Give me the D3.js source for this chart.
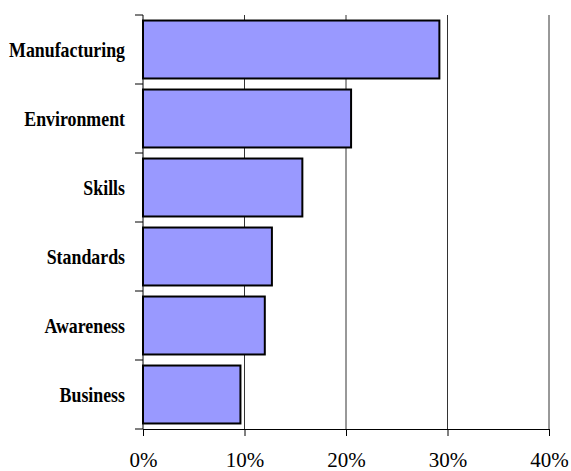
<!DOCTYPE html>
<html>
<head>
<meta charset="utf-8">
<script src="https://cdn.jsdelivr.net/npm/d3@7"></script>
<style>
  body { margin: 0; background: #fff; }
  svg { display: block; }
</style>
</head>
<body>
<svg id="canvas" width="571" height="471"></svg>
<script>
// chart data
const categories = ['Manufacturing', 'Environment', 'Skills', 'Standards', 'Awareness', 'Business'];
const shares = [29.2, 20.5, 15.7, 12.7, 12.0, 9.6];
const tickValues = [0, 10, 20, 30, 40];

const margin = {top: 15, right: 22, bottom: 42, left: 143};
const width = 571 - margin.left - margin.right;
const height = 471 - margin.top - margin.bottom;

let canvas = d3.select('#canvas');
let g = canvas.append('g').attr('transform', `translate(${margin.left},${margin.top})`);

let x = d3.scaleLinear().domain([0, 40]).range([0, width]);
let y = d3.scaleBand().domain(categories).range([0, height]).paddingInner(0.16).paddingOuter(0.08);

// vertical grid lines
g.selectAll('.grid')
    .data(tickValues.slice(1))
    .enter()
    .append('line')
    .attr('x1', d => x(d))
    .attr('x2', d => x(d))
    .attr('y1', 0)
    .attr('y2', height)
    .attr('stroke', '#333')
    .attr('stroke-width', 1);

// bars
g.selectAll('rect')
    .data(categories)
    .enter()
    .append('rect')
    .attr('x', 0)
    .attr('y', d => y(d))
    .attr('width', (d, i) => x(shares[i]))
    .attr('height', y.bandwidth())
    .attr('fill', '#9999FF')
    .attr('stroke', '#000')
    .attr('stroke-width', 2);

// x axis
let xAxis = d3.axisBottom(x)
    .tickValues(tickValues)
    .tickFormat(d => d + '%')
    .tickSize(7)
    .tickSizeOuter(0);

g.append('g')
    .attr('transform', `translate(0,${height})`)
    .call(xAxis)
    .call(ax => ax.select('.domain').attr('stroke', '#000'))
    .call(ax => ax.selectAll('line').attr('stroke', '#000'))
    .call(ax => ax.selectAll('text')
        .attr('dy', null)
        .attr('y', 38)
        .attr('fill', '#000')
        .style('font-family', '"Liberation Serif", "DejaVu Serif", serif')
        .style('font-size', '21px'));

// y axis line with ticks between categories
let yTicks = d3.range(categories.length + 1).map(i => i * height / categories.length);
let yAxisG = g.append('g');
yAxisG.append('line')
    .attr('x1', 0).attr('x2', 0)
    .attr('y1', 0).attr('y2', height)
    .attr('stroke', '#000');
yAxisG.selectAll('.ytick')
    .data(yTicks)
    .enter()
    .append('line')
    .attr('x1', -8).attr('x2', 0)
    .attr('y1', d => d).attr('y2', d => d)
    .attr('stroke', '#000');

// category labels (narrow serif look)
g.selectAll('.label')
    .data(categories)
    .enter()
    .append('text')
    .attr('transform', d => `translate(-18,${y(d) + y.bandwidth() / 2}) scale(0.85,1)`)
    .attr('dy', '0.35em')
    .attr('text-anchor', 'end')
    .attr('fill', '#000')
    .style('font-family', '"Liberation Serif", "DejaVu Serif", serif')
    .style('font-size', '21px')
    .style('font-weight', 'bold')
    .text(d => d);
</script>
</body>
</html>
